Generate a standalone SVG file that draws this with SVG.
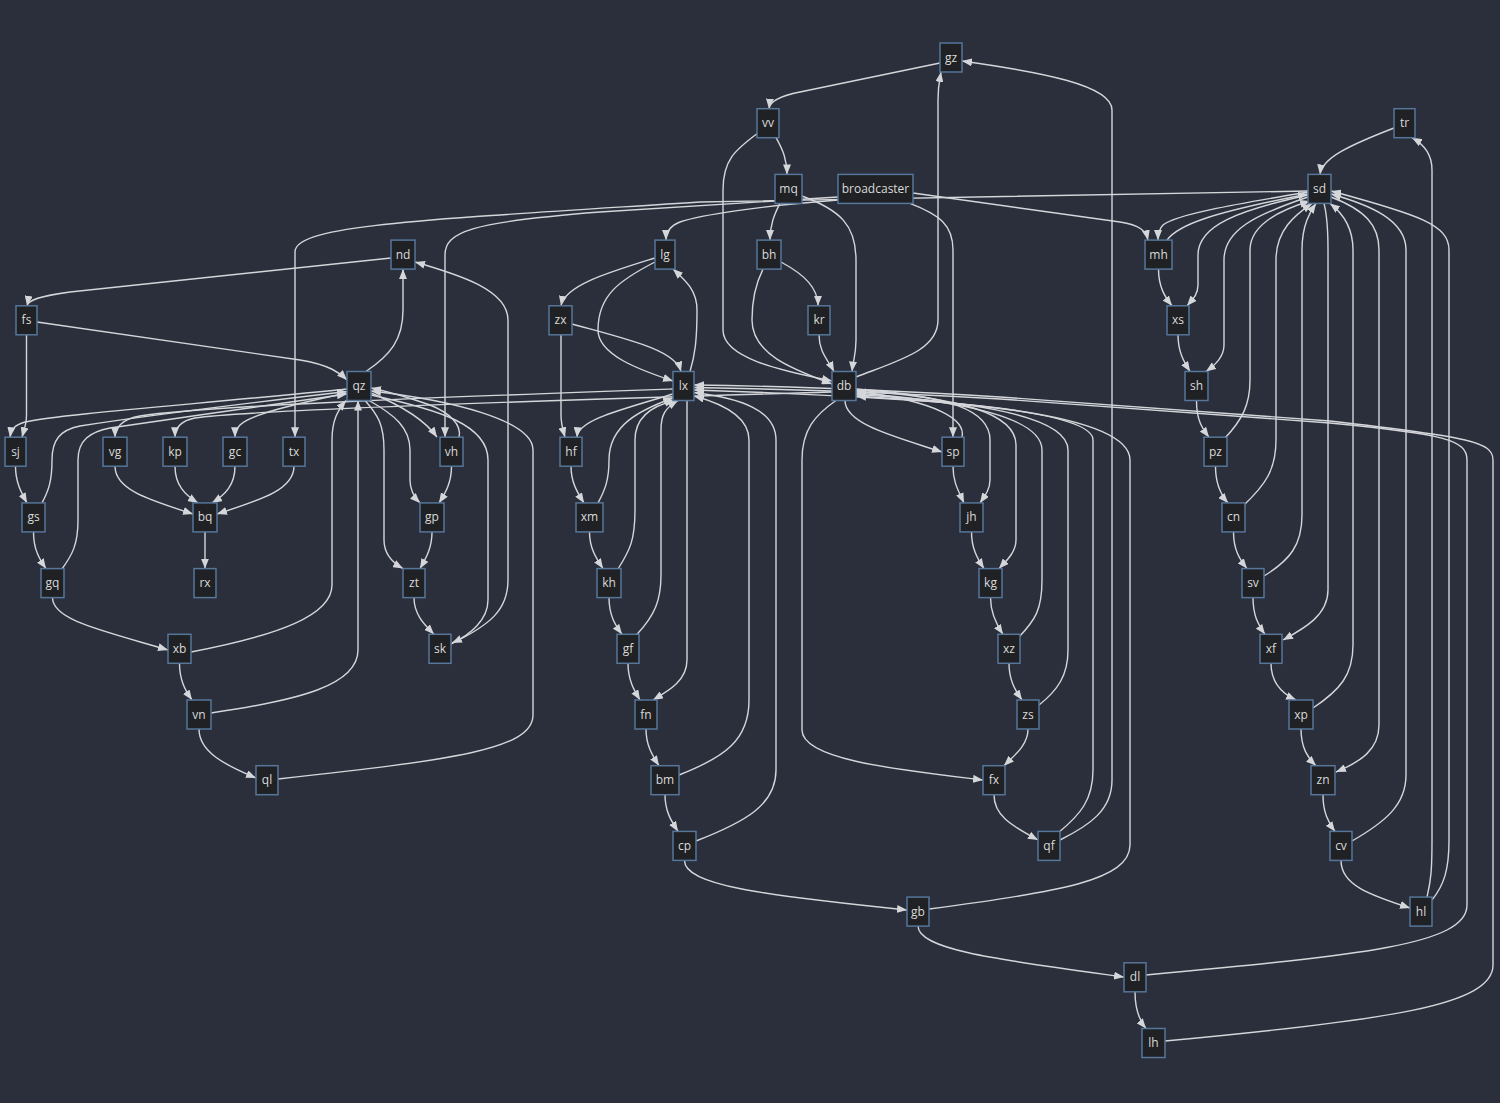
<svg xmlns="http://www.w3.org/2000/svg" width="1500" height="1103" viewBox="0 0 1500 1103">
<defs>
<marker id="ah" viewBox="0 0 10 8" refX="10" refY="4" markerWidth="10" markerHeight="8" markerUnits="userSpaceOnUse" orient="auto"><path d="M0,0L10,4L0,8z" fill="#d4d6da"/></marker>
<style>
.node rect{fill:#1f2124;stroke:#56769a;stroke-width:1.5}
.node text{fill:#dadada;font-family:"Open Sans","Noto Sans",sans-serif;font-size:12px;text-anchor:middle}
.edges path{fill:none;stroke:#d4d6da;stroke-width:1.4;marker-end:url(#ah)}
</style>
</defs>
<rect width="1500" height="1103" fill="#2a2f3b"/>
<g class="edges" id="edges">
<!-- db chain -->
<path d="M940,63 L800,92 Q770,98 769,108.7"/>
<path d="M776,137.7 C783,150 787,160 787,174.4"/>
<path d="M758,133 C735,150 723,160 723,190 L723,330 C723,360 790,372 832,381"/>
<path d="M780,203.4 C774,215 770,225 770,240.1"/>
<path d="M802,196 C840,210 856,225 856,260 L856,340 C856,355 853,362 852,371.5"/>
<path d="M781,262 C805,275 818,288 818,305.8"/>
<path d="M763,269.1 C755,285 752,300 752,320 C752,355 795,370 832,384"/>
<path d="M819,334.8 C819,352 828,360 834,371.5"/>
<path d="M856,377 C900,360 938,350 938,320 L938,100 C938,85 940,78 941,72"/>
<path d="M1060,840 C1090,825 1112,810 1112,780 L1112,110 C1112,85 1040,72 962,61"/>
<path d="M1058,833 C1080,815 1093,800 1093,770 L1093,440 C1093,412 950,402 856,396"/>
<path d="M962,437.2 C966,420 940,402 856,391"/>
<path d="M845,400.5 C845,425 900,438 942,452"/>
<path d="M910,203.4 C940,215 953,225 953,250 L953,437.2"/>
<path d="M856,389 C950,396 990,410 990,440 L990,480 C990,490 984,497 980,502.9"/>
<path d="M953,466.2 C953,482 958,490 964,502.9"/>
<path d="M971.5,531.9 C971.5,548 977,558 984,568.6"/>
<path d="M856,390 C960,398 1016,413 1016,445 L1016,540 C1016,553 1005,562 999,568.6"/>
<path d="M990.5,597.6 C990.5,613 996,624 1003,634.3"/>
<path d="M1019,637 C1035,620 1042,610 1042,580 L1042,450 C1042,415 950,400 856,393"/>
<path d="M1009,663.3 C1009,680 1015,690 1022,700"/>
<path d="M1039,705 C1058,690 1068,675 1068,650 L1068,450 C1068,412 950,400 856,394.5"/>
<path d="M1028,729 C1028,745 1015,755 1004,765.7"/>
<path d="M836,400.5 C815,415 802,430 802,460 L802,730 C802,760 900,770 983,780"/>
<path d="M994,794.7 C994,815 1010,825 1038,840"/>
<path d="M832,392 C700,396 260,408 195,418 C180,421 175,428 175,437.2"/>
<!-- broadcaster -->
<path d="M913,193 L1120,222 C1140,225 1146,231 1148,240.1"/>
<path d="M838,197 L600,212 C470,222 445,232 445,255 L445,437.2"/>
<path d="M838,200 C760,206 700,215 680,222 C670,226 666,232 666,240.1"/>
<path d="M1308,191 L700,202 C420,220 295,225 295,252 L295,437.2"/>
<!-- lx chain -->
<path d="M655,258 C610,272 565,285 561,305.8"/>
<path d="M655,262 C620,280 598,295 598,330 C598,355 640,370 673,381"/>
<path d="M690,371.5 C695,355 697,340 697,310 C697,290 685,280 673,269.1"/>
<path d="M572,324 C630,340 675,350 681,371.5"/>
<path d="M561,334.8 L561,415 C561,425 563,430 565,437.2"/>
<path d="M673,394 C620,410 578,420 577,437.2"/>
<path d="M571,466.2 C571,482 577,492 584,502.9"/>
<path d="M598,502.9 C605,490 609,480 609,460 C609,425 640,410 673,398"/>
<path d="M589.5,531.9 C589.5,548 596,558 603,568.6"/>
<path d="M618,569 C630,550 635,540 635,510 L635,440 C635,415 655,405 675,400.5"/>
<path d="M609,597.6 C609,615 615,625 622,634.3"/>
<path d="M637,634.3 C655,615 661,600 661,575 L661,430 C661,415 665,408 678,400.5"/>
<path d="M628,663.3 C628,680 634,690 640,700"/>
<path d="M687,400.5 L687,660 C687,680 670,690 653,700"/>
<path d="M646,729 C646,745 652,755 659,765.7"/>
<path d="M679,775 C725,757 749,740 749,700 L749,440 C749,415 720,403 694,396"/>
<path d="M665,794.7 C665,812 672,822 678,831.4"/>
<path d="M696,841 C745,822 776,805 776,770 L776,440 C776,410 740,398 694,392.5"/>
<path d="M684.5,860.4 C684.5,885 760,895 907,910"/>
<path d="M929,909 C1060,892 1130,880 1130,845 L1130,460 C1130,430 1060,412 940,402 C850,396 760,392 694,390"/>
<path d="M918,926.1 C918,950 1000,960 1124,977"/>
<path d="M1146,975 C1360,955 1467,945 1467,905 L1467,460 C1467,440 1445,434 1330,423 L1000,399 C900,393 780,389 694,387.5"/>
<path d="M1135,991.8 C1135,1010 1139,1020 1146,1028.5"/>
<path d="M1165,1041 C1390,1020 1493,1005 1493,965 L1493,460 C1493,442 1470,437 1330,421 L1000,397 C900,391 780,386 694,385"/>
<path d="M673,389 C500,395 210,405 140,416 C122,419 115,428 115,437.2"/>
<!-- qz chain -->
<path d="M366,371.5 C390,355 403,340 403,310 L403,269.1"/>
<path d="M451,644 C490,625 508,610 508,580 L508,320 C508,290 460,275 415,262"/>
<path d="M391,258 L70,292 C40,296 28,300 27,305.8"/>
<path d="M37,322 L300,360 C330,365 340,373 347,380"/>
<path d="M26.5,334.8 L26.5,415 C26.5,425 24,430 22,437.2"/>
<path d="M347,389 C200,404 60,414 25,422 C14,425 11,430 10,437.2"/>
<path d="M15.5,466.2 C15.5,482 21,492 27,502.9"/>
<path d="M42,502.9 C49,490 52,480 52,460 C52,440 60,430 80,426 C150,415 300,397 347,391.5"/>
<path d="M33.5,531.9 C33.5,550 40,560 46,568.6"/>
<path d="M62,569 C72,555 78,545 78,520 L78,460 C78,440 90,432 110,428 C180,418 300,400 347,394"/>
<path d="M52.5,597.6 C52.5,620 100,630 168,650"/>
<path d="M191,652 C280,635 332,615 332,585 L332,440 C332,420 338,410 346,400.5"/>
<path d="M179.5,663.3 C179.5,680 185,690 192,700"/>
<path d="M211,713 C300,700 358,685 358,650 L358,400.5"/>
<path d="M199,729 C199,752 225,765 256,778"/>
<path d="M278,779 C450,760 533,750 533,715 L533,450 C533,420 450,400 371,391"/>
<path d="M371,395 C440,410 488,425 488,460 L488,600 C488,620 470,635 452,643"/>
<path d="M371,393 C400,405 425,420 437,437.2"/>
<path d="M459,437.2 C462,425 450,413 430,405 C410,398 390,392 371,388"/>
<path d="M369,400.5 C395,415 410,428 410,450 L410,480 C410,490 414,497 420,502.9"/>
<path d="M451.5,466.2 C451.5,482 446,492 439,502.9"/>
<path d="M432,531.9 C432,548 426,558 420,568.6"/>
<path d="M365,400.5 C378,415 384,425 384,450 L384,540 C384,555 393,563 403,568.6"/>
<path d="M414,597.6 C414,615 425,625 434,634.3"/>
<path d="M347,393 C290,405 250,415 240,425 C236,429 235,432 235,437.2"/>
<!-- bq -->
<path d="M115,466.2 C115,490 150,500 193,514"/>
<path d="M175,466.2 C175,485 185,495 198,502.9"/>
<path d="M235,466.2 C235,485 225,495 212,502.9"/>
<path d="M294,466.2 C294,490 260,500 217,514"/>
<path d="M205,531.9 L205,568.6"/>
<!-- sd chain -->
<path d="M1394,128 C1350,145 1322,158 1320,174.4"/>
<path d="M1308,192 C1230,205 1175,215 1163,225 C1159,229 1158,234 1158,240.1"/>
<path d="M1167,240.1 C1178,225 1210,213 1308,194"/>
<path d="M1158.5,269.1 C1158.5,287 1165,297 1172,305.8"/>
<path d="M1308,195 C1240,210 1198,225 1198,255 L1198,285 C1198,295 1192,300 1187,305.8"/>
<path d="M1178,334.8 C1178,352 1184,362 1190,371.5"/>
<path d="M1308,197 C1255,215 1224,230 1224,260 L1224,345 C1224,357 1215,365 1206,371.5"/>
<path d="M1196.5,400.5 C1196.5,420 1202,428 1209,437.2"/>
<path d="M1225,438 C1242,420 1250,405 1250,380 L1250,250 C1250,225 1280,210 1310,201"/>
<path d="M1215.5,466.2 C1215.5,485 1221,495 1228,502.9"/>
<path d="M1244,505 C1265,485 1276,470 1276,440 L1276,260 C1276,230 1295,215 1312,203.4"/>
<path d="M1233.5,531.9 C1233.5,550 1240,560 1247,568.6"/>
<path d="M1264,576 C1290,560 1302,545 1302,515 L1302,250 C1302,225 1310,212 1316,203.4"/>
<path d="M1253,597.6 C1253,615 1258,625 1265,634.3"/>
<path d="M1324,203.4 C1327,215 1328,225 1328,250 L1328,590 C1328,615 1305,628 1283,640"/>
<path d="M1271,663.3 C1271,685 1285,695 1296,700"/>
<path d="M1313,708 C1340,690 1353,675 1353,645 L1353,250 C1353,230 1345,215 1330,203.4"/>
<path d="M1301,729 C1301,748 1308,758 1316,765.7"/>
<path d="M1331,197 C1365,210 1379,225 1379,250 L1379,725 C1379,750 1360,762 1336,772"/>
<path d="M1323,794.7 C1323,812 1328,822 1335,831.4"/>
<path d="M1352,841 C1385,822 1406,805 1406,775 L1406,250 C1406,220 1370,205 1331,194"/>
<path d="M1341,860.4 C1341,885 1370,895 1410,908"/>
<path d="M1427,897.1 C1431,880 1432,870 1432,840 L1432,170 C1432,155 1425,145 1412,137.7"/>
<path d="M1432,900 C1444,885 1449,870 1449,840 L1449,250 C1449,225 1420,215 1331,191"/>
</g>
<g id="n-gz" class="node"><rect x="940" y="43" width="22" height="29"/><text x="951" y="61.5">gz</text></g>
<g id="n-vv" class="node"><rect x="757" y="108.7" width="22" height="29"/><text x="768" y="127.2">vv</text></g>
<g id="n-mq" class="node"><rect x="775" y="174.4" width="27" height="29"/><text x="788.5" y="192.9">mq</text></g>
<g id="n-broadcaster" class="node"><rect x="838" y="174.4" width="75" height="29"/><text x="875.5" y="192.9">broadcaster</text></g>
<g id="n-tr" class="node"><rect x="1394" y="108.7" width="21" height="29"/><text x="1404.5" y="127.2">tr</text></g>
<g id="n-sd" class="node"><rect x="1308" y="174.4" width="23" height="29"/><text x="1319.5" y="192.9">sd</text></g>
<g id="n-nd" class="node"><rect x="391" y="240.1" width="24" height="29"/><text x="403" y="258.6">nd</text></g>
<g id="n-lg" class="node"><rect x="655" y="240.1" width="20" height="29"/><text x="665" y="258.6">lg</text></g>
<g id="n-bh" class="node"><rect x="757" y="240.1" width="24" height="29"/><text x="769" y="258.6">bh</text></g>
<g id="n-mh" class="node"><rect x="1145" y="240.1" width="27" height="29"/><text x="1158.5" y="258.6">mh</text></g>
<g id="n-fs" class="node"><rect x="16" y="305.8" width="21" height="29"/><text x="26.5" y="324.3">fs</text></g>
<g id="n-zx" class="node"><rect x="549" y="305.8" width="23" height="29"/><text x="560.5" y="324.3">zx</text></g>
<g id="n-kr" class="node"><rect x="808" y="305.8" width="22" height="29"/><text x="819" y="324.3">kr</text></g>
<g id="n-xs" class="node"><rect x="1167" y="305.8" width="22" height="29"/><text x="1178" y="324.3">xs</text></g>
<g id="n-qz" class="node"><rect x="347" y="371.5" width="24" height="29"/><text x="359" y="390">qz</text></g>
<g id="n-lx" class="node"><rect x="673" y="371.5" width="21" height="29"/><text x="683.5" y="390">lx</text></g>
<g id="n-db" class="node"><rect x="832" y="371.5" width="24" height="29"/><text x="844" y="390">db</text></g>
<g id="n-sh" class="node"><rect x="1185" y="371.5" width="23" height="29"/><text x="1196.5" y="390">sh</text></g>
<g id="n-sj" class="node"><rect x="5" y="437.2" width="21" height="29"/><text x="15.5" y="455.7">sj</text></g>
<g id="n-vg" class="node"><rect x="103" y="437.2" width="24" height="29"/><text x="115" y="455.7">vg</text></g>
<g id="n-kp" class="node"><rect x="163" y="437.2" width="24" height="29"/><text x="175" y="455.7">kp</text></g>
<g id="n-gc" class="node"><rect x="223" y="437.2" width="24" height="29"/><text x="235" y="455.7">gc</text></g>
<g id="n-tx" class="node"><rect x="283" y="437.2" width="22" height="29"/><text x="294" y="455.7">tx</text></g>
<g id="n-vh" class="node"><rect x="440" y="437.2" width="23" height="29"/><text x="451.5" y="455.7">vh</text></g>
<g id="n-hf" class="node"><rect x="560" y="437.2" width="22" height="29"/><text x="571" y="455.7">hf</text></g>
<g id="n-sp" class="node"><rect x="942" y="437.2" width="22" height="29"/><text x="953" y="455.7">sp</text></g>
<g id="n-pz" class="node"><rect x="1204" y="437.2" width="23" height="29"/><text x="1215.5" y="455.7">pz</text></g>
<g id="n-gs" class="node"><rect x="22" y="502.9" width="23" height="29"/><text x="33.5" y="521.4">gs</text></g>
<g id="n-bq" class="node"><rect x="193" y="502.9" width="24" height="29"/><text x="205" y="521.4">bq</text></g>
<g id="n-gp" class="node"><rect x="420" y="502.9" width="24" height="29"/><text x="432" y="521.4">gp</text></g>
<g id="n-xm" class="node"><rect x="576" y="502.9" width="27" height="29"/><text x="589.5" y="521.4">xm</text></g>
<g id="n-jh" class="node"><rect x="960" y="502.9" width="23" height="29"/><text x="971.5" y="521.4">jh</text></g>
<g id="n-cn" class="node"><rect x="1222" y="502.9" width="23" height="29"/><text x="1233.5" y="521.4">cn</text></g>
<g id="n-gq" class="node"><rect x="41" y="568.6" width="23" height="29"/><text x="52.5" y="587.1">gq</text></g>
<g id="n-rx" class="node"><rect x="194" y="568.6" width="22" height="29"/><text x="205" y="587.1">rx</text></g>
<g id="n-zt" class="node"><rect x="403" y="568.6" width="22" height="29"/><text x="414" y="587.1">zt</text></g>
<g id="n-kh" class="node"><rect x="597" y="568.6" width="24" height="29"/><text x="609" y="587.1">kh</text></g>
<g id="n-kg" class="node"><rect x="979" y="568.6" width="23" height="29"/><text x="990.5" y="587.1">kg</text></g>
<g id="n-sv" class="node"><rect x="1242" y="568.6" width="22" height="29"/><text x="1253" y="587.1">sv</text></g>
<g id="n-xb" class="node"><rect x="168" y="634.3" width="23" height="29"/><text x="179.5" y="652.8">xb</text></g>
<g id="n-sk" class="node"><rect x="429" y="634.3" width="22" height="29"/><text x="440" y="652.8">sk</text></g>
<g id="n-gf" class="node"><rect x="617" y="634.3" width="22" height="29"/><text x="628" y="652.8">gf</text></g>
<g id="n-xz" class="node"><rect x="998" y="634.3" width="22" height="29"/><text x="1009" y="652.8">xz</text></g>
<g id="n-xf" class="node"><rect x="1260" y="634.3" width="22" height="29"/><text x="1271" y="652.8">xf</text></g>
<g id="n-vn" class="node"><rect x="187" y="700" width="24" height="29"/><text x="199" y="718.5">vn</text></g>
<g id="n-fn" class="node"><rect x="635" y="700" width="22" height="29"/><text x="646" y="718.5">fn</text></g>
<g id="n-zs" class="node"><rect x="1017" y="700" width="22" height="29"/><text x="1028" y="718.5">zs</text></g>
<g id="n-xp" class="node"><rect x="1289" y="700" width="24" height="29"/><text x="1301" y="718.5">xp</text></g>
<g id="n-ql" class="node"><rect x="256" y="765.7" width="22" height="29"/><text x="267" y="784.2">ql</text></g>
<g id="n-bm" class="node"><rect x="651" y="765.7" width="28" height="29"/><text x="665" y="784.2">bm</text></g>
<g id="n-fx" class="node"><rect x="983" y="765.7" width="22" height="29"/><text x="994" y="784.2">fx</text></g>
<g id="n-zn" class="node"><rect x="1311" y="765.7" width="24" height="29"/><text x="1323" y="784.2">zn</text></g>
<g id="n-cp" class="node"><rect x="673" y="831.4" width="23" height="29"/><text x="684.5" y="849.9">cp</text></g>
<g id="n-qf" class="node"><rect x="1038" y="831.4" width="22" height="29"/><text x="1049" y="849.9">qf</text></g>
<g id="n-cv" class="node"><rect x="1330" y="831.4" width="22" height="29"/><text x="1341" y="849.9">cv</text></g>
<g id="n-gb" class="node"><rect x="907" y="897.1" width="22" height="29"/><text x="918" y="915.6">gb</text></g>
<g id="n-hl" class="node"><rect x="1410" y="897.1" width="22" height="29"/><text x="1421" y="915.6">hl</text></g>
<g id="n-dl" class="node"><rect x="1124" y="962.8" width="22" height="29"/><text x="1135" y="981.3">dl</text></g>
<g id="n-lh" class="node"><rect x="1142" y="1028.5" width="23" height="29"/><text x="1153.5" y="1047">lh</text></g>
</svg>
